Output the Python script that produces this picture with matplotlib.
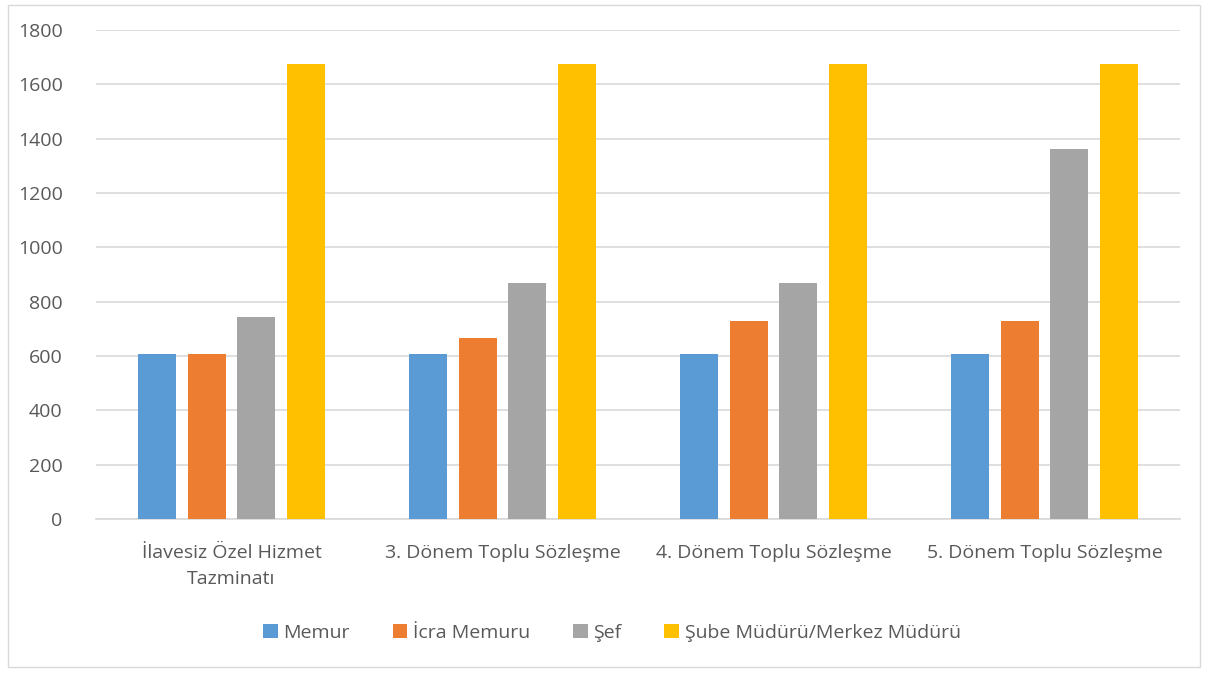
import numpy as np
import matplotlib
matplotlib.use("Agg")
from matplotlib import pyplot as plt
from matplotlib.patches import Rectangle

# veriler
categories = ["İlavesiz Özel Hizmet\nTazminatı", "3. Dönem Toplu Sözleşme",
              "4. Dönem Toplu Sözleşme", "5. Dönem Toplu Sözleşme"]
series_names = ["Memur", "İcra Memuru", "Şef", "Şube Müdürü/Merkez Müdürü"]
memur = [606, 606, 606, 606]
icra_memuru = [606, 668, 730, 730]
sef = [745, 868, 868, 1361]
sube_muduru = [1675, 1675, 1675, 1675]
yticks = [0, 200, 400, 600, 800, 1000, 1200, 1400, 1600, 1800]

colors = ["#5B9BD5", "#ED7D31", "#A5A5A5", "#FFC000"]
text_color = "#595959"

plt.rcParams['font.family'] = ['Open Sans', 'DejaVu Sans']

fig = plt.figure(figsize=(12.08, 6.73), dpi=100)
ax = fig.add_axes([96 / 1208, 1 - 519 / 673, (1180 - 96) / 1208, (519 - 30) / 673])

x = np.arange(len(categories))
width = 0.14
offsets = [-0.276, -0.092, 0.092, 0.276]
all_series = [memur, icra_memuru, sef, sube_muduru]
for values, off, col, name in zip(all_series, offsets, colors, series_names):
    ax.bar(x + off, values, width, color=col, label=name, zorder=3)

ax.set_xlim(-0.5, len(categories) - 0.5)
ax.set_ylim(0, 1800)
ax.set_yticks(yticks)
ax.set_yticklabels([str(v) for v in yticks])
ax.set_xticks(x)
ax.set_xticklabels(categories, linespacing=1.6)
ax.tick_params(axis='both', length=0, labelsize=14, colors=text_color)
ax.tick_params(axis='y', pad=24)
ax.tick_params(axis='x', pad=18)
ax.grid(axis='y', color='#D9D9D9', linewidth=1.2, zorder=0)
for s in ['top', 'right', 'left']:
    ax.spines[s].set_visible(False)
ax.spines['bottom'].set_color('#D9D9D9')
ax.spines['bottom'].set_linewidth(1.2)

leg = fig.legend(loc='center', bbox_to_anchor=(612 / 1208, 1 - 633 / 673), ncol=4,
                 frameon=False, fontsize=14, handlelength=0.75, handleheight=0.75,
                 handletextpad=0.3, columnspacing=2.2)
for t in leg.get_texts():
    t.set_color(text_color)

# grafik çerçevesi
fig.patches.append(Rectangle((8 / 1208, 6 / 673), 1192 / 1208, 662 / 673,
                             transform=fig.transFigure, fill=False,
                             edgecolor='#D9D9D9', linewidth=1))

fig.savefig("out.png", dpi=100)
